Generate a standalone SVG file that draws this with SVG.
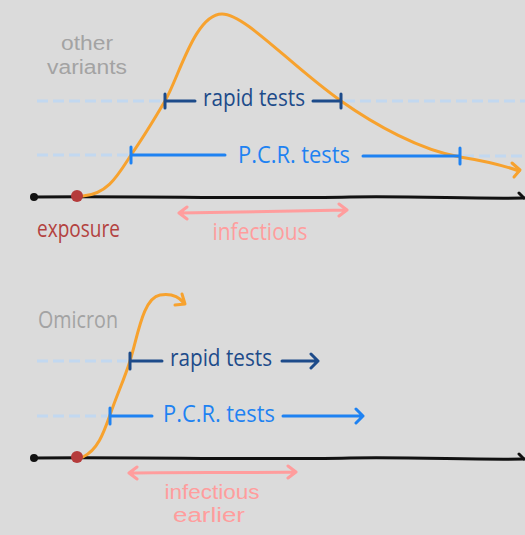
<svg xmlns="http://www.w3.org/2000/svg" width="525" height="535" viewBox="0 0 525 535">
<style>
.bg{fill:#dbdbdb}
text{font-family:"Open Sans","DejaVu Sans",sans-serif;font-size:24px}
text.stack{font-family:"Liberation Sans","Open Sans",sans-serif;font-size:20px}
.gray{fill:#a3a3a3}
.navy{fill:#1d4b8a}
.blue{fill:#1e82f2}
.red{fill:#b3423f}
.pink{fill:#ff9d9d}
.axis{stroke:#111;stroke-width:3;fill:none;stroke-linecap:round;stroke-linejoin:round}
.curve{stroke:#f7a22e;stroke-width:3;fill:none;stroke-linecap:round;stroke-linejoin:round}
.dash{stroke:#c2d8f0;stroke-width:3;fill:none;stroke-dasharray:11 5}
.ln-navy{stroke:#1d4b8a;stroke-width:3;fill:none;stroke-linecap:round;stroke-linejoin:round}
.ln-blue{stroke:#1e82f2;stroke-width:3;fill:none;stroke-linecap:round;stroke-linejoin:round}
.ln-pink{stroke:#ff9d9d;stroke-width:3;fill:none;stroke-linecap:round;stroke-linejoin:round}
</style>
<rect class="bg" x="0" y="0" width="525" height="535"/>

<g id="top-labels">
  <text class="gray stack" x="87" y="50" text-anchor="middle" textLength="52" lengthAdjust="spacingAndGlyphs">other</text>
  <text class="gray stack" x="87" y="74" text-anchor="middle" textLength="80" lengthAdjust="spacingAndGlyphs">variants</text>
  <text class="red" x="37" y="237" textLength="83" lengthAdjust="spacingAndGlyphs">exposure</text>
</g>

<g id="connectors">
  <!-- top section -->
  <path class="dash" d="M37,101 H162"/>
  <path class="dash" d="M344,101 H525"/>
  <path class="dash" d="M37,155 H128"/>
  <path class="dash" d="M463,156 H525"/>
  <path class="axis" d="M34,197 C150,196 250,199 350,197 C420,196 470,199 524,198"/>
  <path class="axis" d="M519,193 L524,198"/>
  <path class="curve" d="M83,196 C108,194 118,175 131,155 C145,135 155,118 165,101 C179,77 195,14 222,14 C245,14 290,65 341,101 C375,125 420,150 460,157 C485,161 505,166 519,171"/>
  <path class="curve" d="M512,163 L520,170 L514,177"/>
  <path class="ln-navy" d="M165,94 V108 M165,101 H195 M313,101 H341 M341,94 V108"/>
  <path class="ln-blue" d="M131,147 V163 M131,155 H225 M363,156 H460 M460,148 V164"/>
  <path class="ln-pink" d="M180,213 C240,212 300,211 346,210 M187,207 L179,213 L187,219 M339,204 L347,210 L339,216"/>

  <!-- bottom section -->
  <path class="dash" d="M37,361 H127"/>
  <path class="dash" d="M37,416 H107"/>
  <path class="axis" d="M34,458 C150,457 250,460 350,458 C420,457 470,460 524,459"/>
  <path class="axis" d="M519,454 L524,459"/>
  <path class="curve" d="M83,457 C98,450 104,432 110,415 C118,392 124,380 130,361 C138,335 143,298 160,295 C172,293 180,298 184,303"/>
  <path class="curve" d="M175,305 L185,304 L182,294"/>
  <path class="ln-navy" d="M130,353 V369 M130,361 H162 M282,361 H318 M311,354 L318,361 L311,368"/>
  <path class="ln-blue" d="M110,408 V424 M110,416 H152 M283,416 H363 M356,409 L363,416 L356,423"/>
  <path class="ln-pink" d="M129,473 C180,472 240,473 295,472 M137,467 L129,473 L137,479 M288,466 L296,472 L288,478"/>
</g>

<g id="top-dots">
  <circle cx="34" cy="197" r="4" fill="#111"/>
  <circle cx="77" cy="196" r="6" fill="#b53b3b"/>
</g>

<g id="top-text">
  <text class="navy" x="203" y="106" textLength="102" lengthAdjust="spacingAndGlyphs">rapid tests</text>
  <text class="blue" x="238" y="163" textLength="112" lengthAdjust="spacingAndGlyphs">P.C.R. tests</text>
  <text class="pink" x="260" y="240" text-anchor="middle" textLength="95" lengthAdjust="spacingAndGlyphs">infectious</text>
</g>

<g id="bottom-labels">
  <text class="gray" x="38" y="328" textLength="80" lengthAdjust="spacingAndGlyphs">Omicron</text>
</g>

<g id="bottom-dots">
  <circle cx="34" cy="458" r="4" fill="#111"/>
  <circle cx="77" cy="457" r="6" fill="#b53b3b"/>
</g>

<g id="bottom-text">
  <text class="pink stack" x="212" y="499" text-anchor="middle" textLength="95" lengthAdjust="spacingAndGlyphs">infectious</text>
  <text class="pink stack" x="209" y="522" text-anchor="middle" textLength="72" lengthAdjust="spacingAndGlyphs">earlier</text>
  <text class="navy" x="170" y="366" textLength="102" lengthAdjust="spacingAndGlyphs">rapid tests</text>
  <text class="blue" x="163" y="422" textLength="112" lengthAdjust="spacingAndGlyphs">P.C.R. tests</text>
</g>
</svg>
